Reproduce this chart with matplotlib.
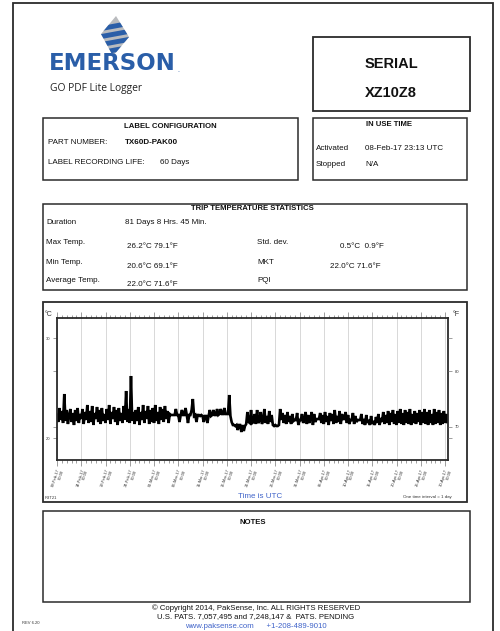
import numpy as np
import matplotlib
matplotlib.use("Agg")
import matplotlib.pyplot as plt
from matplotlib.patches import Rectangle, Polygon
from matplotlib.ticker import FixedLocator, MultipleLocator

plt.rcParams['font.family'] = ['Liberation Sans', 'DejaVu Sans']

# ---------------- data ----------------
samples_per_day = 4
temps_c = [
    22.3, 21.6, 23.0, 21.8, 22.7, 21.5, 24.4, 21.7,
    22.8, 21.4, 22.2, 22.9, 21.6, 22.5, 21.3, 22.8,
    21.7, 23.0, 21.5, 22.4, 21.9, 22.9, 21.4, 22.6,
    21.8, 23.3, 21.5, 22.7, 21.6, 23.2, 21.3, 22.5,
    21.9, 23.1, 21.6, 22.8, 21.4, 23.0, 21.7, 22.4,
    21.5, 22.9, 21.8, 23.3, 21.4, 22.6, 21.9, 23.1,
    21.6, 22.8, 21.3, 23.0, 21.7, 22.5, 21.5, 23.2,
    21.8, 24.7, 21.6, 22.9, 21.5, 26.2, 21.7, 22.6,
    21.4, 22.8, 21.7, 23.1, 21.3, 22.6, 21.8, 23.3,
    21.5, 22.7, 21.9, 23.2, 21.4, 22.8, 21.6, 23.0,
    21.5, 23.3, 21.7, 22.6, 21.4, 23.1, 21.8, 22.9,
    21.6, 23.2, 21.9, 22.7, 21.5, 22.4, 22.3, 22.3,
    22.3, 22.3, 22.9, 22.3, 22.3, 21.6, 22.3, 22.8,
    22.3, 22.3, 23.0, 22.3, 21.5, 22.3, 22.3, 22.8,
    23.9, 22.2, 22.3, 21.6, 22.3, 22.3, 22.2, 22.3,
    22.2, 21.6, 22.2, 22.2, 21.5, 22.2, 22.8, 22.2,
    22.3, 22.8, 22.3, 22.3, 22.9, 22.3, 22.4, 22.9,
    22.4, 22.4, 23.0, 22.4, 22.4, 22.4, 24.3, 22.2,
    21.6, 21.3, 21.3, 21.2, 21.3, 20.8, 21.3, 21.3,
    20.6, 21.3, 20.7, 21.2, 21.4, 22.6, 21.6, 21.5,
    22.8, 21.5, 21.6, 22.4, 21.4, 22.8, 21.5, 21.7,
    22.6, 21.4, 21.8, 22.9, 21.5, 22.2, 21.4, 22.7,
    21.6, 22.3, 21.3, 21.2, 21.3, 21.2, 21.2, 21.3,
    22.9, 21.8, 22.5, 21.5, 22.3, 21.4, 22.6, 21.6,
    22.2, 21.4, 22.4, 21.7, 21.8, 21.8, 22.5, 21.3,
    21.8, 21.8, 22.4, 21.5, 21.9, 22.6, 21.4, 22.3,
    21.5, 21.9, 22.6, 21.3, 22.4, 21.6, 21.9, 21.9,
    21.9, 22.5, 21.5, 22.3, 21.4, 22.6, 21.6, 22.2,
    21.3, 22.5, 21.7, 22.4, 21.4, 22.8, 21.5, 22.2,
    21.6, 22.7, 21.4, 22.4, 21.9, 21.9, 22.6, 21.5,
    22.3, 21.4, 21.8, 21.8, 22.5, 21.4, 22.2, 21.6,
    21.8, 21.8, 21.8, 22.4, 21.4, 21.9, 21.3, 22.3,
    21.5, 21.8, 21.3, 22.2, 21.4, 21.7, 21.3, 22.1,
    21.5, 22.4, 21.3, 22.0, 21.6, 22.6, 21.4, 22.3,
    21.5, 22.7, 21.3, 22.5, 21.6, 22.8, 21.4, 22.4,
    21.3, 22.7, 21.5, 22.9, 21.4, 22.5, 21.3, 22.8,
    21.5, 22.6, 21.4, 22.9, 21.3, 22.4, 21.5, 22.7,
    21.4, 22.5, 21.6, 22.8, 21.3, 22.6, 21.5, 22.9,
    21.4, 22.6, 21.3, 22.8, 21.5, 22.4, 21.3, 22.9,
    21.4, 22.6, 21.5, 22.8, 21.3, 22.5, 21.4, 22.7,
    21.5, 22.4, 21.6,
]
tick_days = [0, 5, 10, 15, 20, 25, 30, 35, 40, 45, 50, 55, 60, 65, 70, 75, 80]
tick_dates = ["09-Feb-17", "14-Feb-17", "19-Feb-17", "24-Feb-17", "01-Mar-17",
              "06-Mar-17", "11-Mar-17", "16-Mar-17", "21-Mar-17", "26-Mar-17",
              "31-Mar-17", "05-Apr-17", "10-Apr-17", "15-Apr-17", "20-Apr-17",
              "25-Apr-17", "30-Apr-17"]
c_ticks = [20, 30]
f_ticks = [70, 80]

stats_labels_left = ["Max Temp.", "Min Temp.", "Average Temp."]
stats_values_left = ["26.2°C 79.1°F", "20.6°C 69.1°F", "22.0°C 71.6°F"]
stats_labels_right = ["Std. dev.", "MKT", "PQI"]
stats_values_right = ["0.5°C  0.9°F", "22.0°C 71.6°F", ""]

# ---------------- figure ----------------
W, H = 500, 631
fig = plt.figure(figsize=(W / 100, H / 100), dpi=100)
fig.patch.set_facecolor('white')
bg = fig.add_axes([0, 0, 1, 1])
bg.set_xlim(0, W)
bg.set_ylim(H, 0)
bg.axis('off')

EC = '#2b2b2b'
BLUE = '#2a5ea8'

def box(x0, y0, x1, y1, lw=1.1):
    bg.add_patch(Rectangle((x0, y0), x1 - x0, y1 - y0, fill=False, ec=EC, lw=lw))

def t(x, y, s, size=5.8, weight='normal', ha='left', color='#111111', **kw):
    bg.text(x, y, s, fontsize=size, fontweight=weight, ha=ha, va='center', color=color, **kw)

# page frame
bg.plot([13, 13, 493, 493], [H + 5, 3, 3, H + 5], color=EC, lw=1.3, solid_joinstyle='miter')

# logo emblem
diamond = [(116, 16), (129, 37), (113, 56), (101, 34)]
dpoly = Polygon(diamond, closed=True, fc='#b9bbbe', ec='none')
bg.add_patch(dpoly)
for yb in [22, 30, 38, 46]:
    stripe = Polygon([(96, yb + 5), (134, yb - 2), (134, yb + 3), (96, yb + 10)],
                     closed=True, fc=BLUE, ec='none')
    bg.add_patch(stripe)
    stripe.set_clip_path(dpoly)
t(49, 64, "EMERSON", size=16.5, weight='bold', color=BLUE, family='DejaVu Sans')
t(177, 70, ".", size=5, color=BLUE)
t(50, 88, "GO PDF Lite Logger", size=7.4, color='#222222', family='Open Sans')

# serial box
box(313, 37, 470, 111, lw=1.3)
t(391, 64, "SERIAL", size=10.5, weight='bold', ha='center')
t(391, 93, "XZ10Z8", size=10.5, weight='bold', ha='center')

# label configuration
box(43, 118, 298, 180)
t(170, 126, "LABEL CONFIGURATION", size=5.6, weight='bold', ha='center')
t(48, 143, "PART NUMBER:")
t(125, 142, "TX60D-PAK00", weight='bold')
t(48, 162, "LABEL RECORDING LIFE:")
t(160, 162, "60 Days")

# in use time
box(313, 118, 467, 180)
t(389, 124, "IN USE TIME", size=5.6, weight='bold', ha='center')
t(316, 149, "Activated")
t(365, 149, "08-Feb-17 23:13 UTC")
t(316, 165, "Stopped")
t(365, 165, "N/A")

# trip statistics
box(43, 204, 467, 290)
t(252, 209, "TRIP TEMPERATURE STATISTICS", size=5.6, weight='bold', ha='center')
t(46, 223, "Duration")
t(125, 222, "81 Days 8 Hrs. 45 Min.")
rows_y = [242, 262, 280]
for i, yy in enumerate(rows_y):
    t(46, yy, stats_labels_left[i])
    t(127, yy + 4, stats_values_left[i])
    t(257, yy, stats_labels_right[i])
    t(330 if i else 340, yy + 4, stats_values_right[i])

# chart frame
box(43, 302, 467, 502, lw=1.3)
t(45, 315, "°C", size=5, color='#333333')
t(453, 315, "°F", size=5, color='#333333')
t(45, 498, "R3T21", size=3, color='#333333')
t(260, 496, "Time is UTC", size=5.8, ha='center', color='#3f63c9')
t(452, 497, "One time interval = 1 day", size=3.2, ha='right', color='#333333')

# notes
box(43, 511, 470, 602)
t(253, 523, "NOTES", size=5.6, weight='bold', ha='center')

# footer
t(256, 608, "© Copyright 2014, PakSense, Inc. ALL RIGHTS RESERVED", size=5.6, ha='center')
t(256, 617, "U.S. PATS. 7,057,495 and 7,248,147 &  PATS. PENDING", size=5.6, ha='center')
t(256, 626, "www.paksense.com      +1-208-489-9010", size=5.6, ha='center', color='#3f63c9')
t(22, 623, "REV 6.20", size=3, color='#333333')

# ---------------- chart ----------------
x0, x1, y0, y1 = 57, 448, 318, 460
ax = fig.add_axes([x0 / W, 1 - y1 / H, (x1 - x0) / W, (y1 - y0) / H])
days = np.arange(len(temps_c)) / samples_per_day
ax.plot(days, temps_c, color='black', lw=1.9, solid_joinstyle='miter')
ax.set_xlim(0, 80.6)
ax.set_ylim(17.8, 32.0)
ax.xaxis.set_major_locator(FixedLocator(tick_days))
ax.xaxis.set_minor_locator(MultipleLocator(1))
ax.set_xticklabels([d + "\n00:00" for d in tick_dates], rotation=72, fontsize=3,
                   ha='right', va='top', rotation_mode='anchor', color='#333333')
ax.grid(axis='x', which='major', color='#d2d2d2', lw=0.6)
ax.tick_params(axis='x', which='both', top=True, bottom=True, direction='out',
               color='#777777', width=0.5, pad=2)
ax.tick_params(axis='x', which='major', length=4)
ax.tick_params(axis='x', which='minor', length=2.5)
ax.set_yticks(c_ticks)
ax.set_yticks([(80 - 32) / 1.8, (70 - 32) / 1.8], minor=True)
ax.tick_params(axis='y', which='both', length=3, width=0.5, color='#777777',
               labelsize=3, labelcolor='#333333', pad=2)
for s in ax.spines.values():
    s.set_color(EC)
    s.set_linewidth(1.3)

ax2 = ax.twinx()
ax2.set_ylim(17.8 * 1.8 + 32, 32.0 * 1.8 + 32)
ax2.set_yticks(f_ticks)
ax2.set_yticks([68, 86], minor=True)
ax2.tick_params(axis='y', which='both', length=3, width=0.5, color='#777777',
                labelsize=3, labelcolor='#333333', pad=2)
for s in ax2.spines.values():
    s.set_visible(False)

fig.savefig("out.png", dpi=100, facecolor='white')
